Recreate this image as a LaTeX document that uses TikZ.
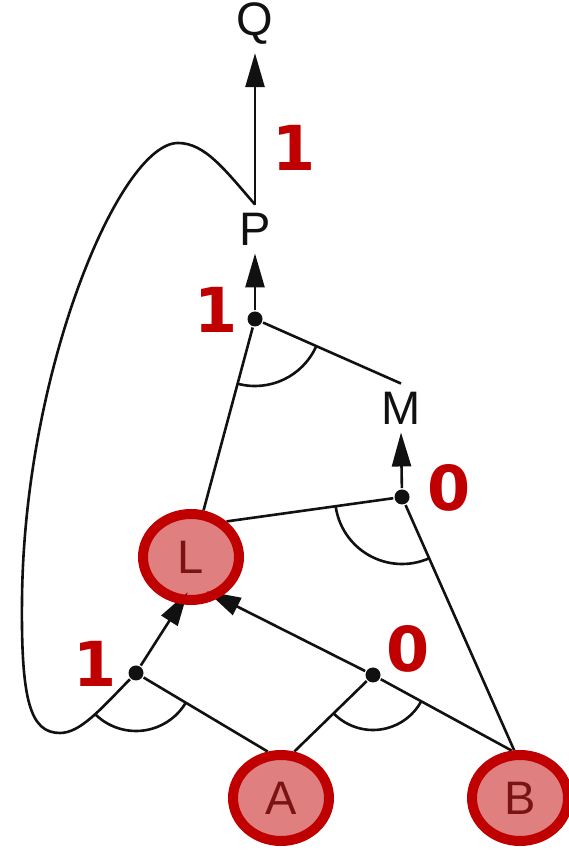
\documentclass[tikz,border=0pt]{standalone}
\usepackage{fontspec}
\setmainfont{Liberation Sans}
\newfontfamily\numfont{DejaVu Sans}
\usetikzlibrary{arrows.meta,shapes.geometric,backgrounds}
\definecolor{cRing}{HTML}{C00000}
\definecolor{cLetter}{HTML}{7A1414}
\definecolor{cInk}{HTML}{111111}
\tikzset{
  every picture/.style={line width=2.6pt},
  var/.style={inner sep=7pt, font=\fontsize{47pt}{50pt}\selectfont, text=cInk},
  hl/.style={ellipse, draw=cRing, line width=10pt, fill=cRing, fill opacity=0.5,
             text opacity=1, minimum width=96pt, minimum height=86pt, inner sep=0pt,
             font=\fontsize{47pt}{50pt}\selectfont, text=cLetter},
  junc/.style={circle, fill=cInk, inner sep=0pt, minimum size=15pt},
  wire/.style={draw=cInk, line width=2.6pt},
  flow/.style={wire, -{Triangle[length=34pt,width=19pt]}},
  into/.style={flow, shorten >=-14pt},
  val/.style={font=\numfont\bfseries\fontsize{62pt}{64pt}\selectfont, text=cRing, inner sep=0pt},
}

\begin{document}
\begin{tikzpicture}[x=1pt,y=1pt]
\useasboundingbox (0,0) rectangle (568,850);

% ---------------------------------------------------------------- variables
\node[var] (Q) at (255,826) {Q};
\node[var] (P) at (255,621) {P};
\node[var] (M) at (401,442) {M};
\node[hl]  (L) at (191,293) {L};
\node[hl]  (A) at (281,52)  {A};
\node[hl]  (B) at (520,52)  {B};

% ---------------------------------------------------------------- junctions
\node[junc] (d4) at (255,531) {};
\node[junc] (d3) at (402,353) {};
\node[junc] (d1) at (136,177) {};
\node[junc] (d2) at (373,175) {};

% ---------------------------------------------------------------- values
\node[val] (vP)  at (294,702) {1};
\node[val] (v4)  at (216,540) {1};
\node[val] (v3)  at (449,362) {0};
\node[val] (v1)  at (95,186)  {1};
\node[val] (v2)  at (408,201) {0};

% ---------------------------------------------------------------- connectors
\begin{scope}[on background layer]
\draw[flow] (P.north) -- (Q.south);
\draw[flow] (d4) -- (P.south);
\draw[wire] (d4) -- (L);
\draw[wire] (d4) -- (M.north);
\draw[wire] (d4) ++(255:67) arc[start angle=255, end angle=336, radius=67pt];

\draw[flow] (d3) -- (M.south);
\draw[wire] (d3) -- (L.45);
\draw[wire] (d3) -- (B.97);
\draw[wire] (d3) ++(188:67) arc[start angle=188, end angle=294, radius=67pt];

\draw[into] (d1) -- (L.257);
\draw[wire] (d1) -- (A.106);
\draw[wire] (P.north) .. controls (225,680) and (205,707) .. (178,707)
            .. controls (120,707) and (24,480) .. (22,250)
            .. controls (21,150) and (30,117) .. (60,117)
            .. controls (80,117) and (100,140) .. (d1);
\draw[wire] (d1) ++(226:58) arc[start angle=226, end angle=329, radius=58pt];

\draw[into] (d2) -- (L.305);
\draw[wire] (d2) -- (A.74);
\draw[wire] (d2) -- (B.100);
\draw[wire] (d2) ++(224:55) arc[start angle=224, end angle=331, radius=55pt];
\end{scope}

\end{tikzpicture}
\end{document}
